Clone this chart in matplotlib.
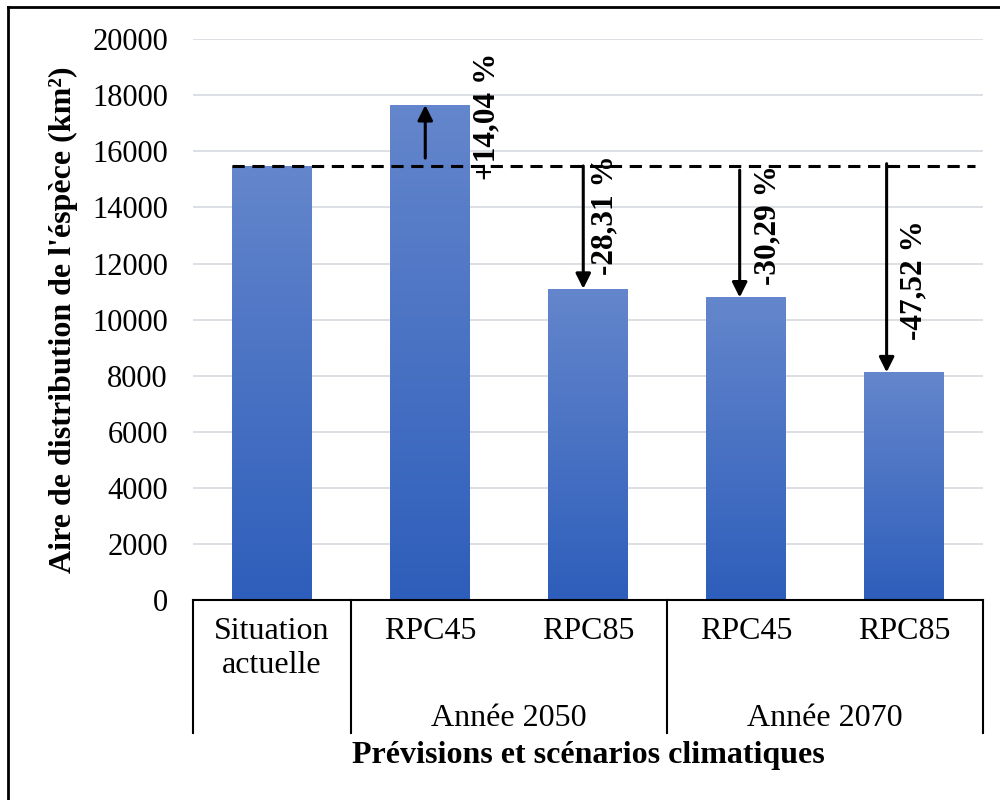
import matplotlib
matplotlib.use("Agg")
import matplotlib.pyplot as plt
import matplotlib.transforms as mtransforms
from matplotlib.lines import Line2D
import numpy as np

plt.rcParams['font.family'] = ['Liberation Serif', 'DejaVu Serif']

# ---- data ----
scenarios = ["Situation\nactuelle", "RPC45", "RPC85", "RPC45", "RPC85"]
groups = ["Année 2050", "Année 2070"]
areas = [15480, 17650, 11100, 10790, 8120]
baseline = 15480
pct_labels = ["+14,04 %", "-28,31 %", "-30,29 %", "-47,52 %"]
yticks = list(range(0, 20001, 2000))

fig = plt.figure(figsize=(10, 8), dpi=100)
ax = fig.add_axes([0.193, 0.25, 0.79, 0.701])

x = np.arange(len(areas))
bars = ax.bar(x, areas, width=0.506, color='none', edgecolor='none', zorder=2)

# gradient fill per bar
top_c = np.array([100, 134, 204]) / 255
bot_c = np.array([46, 94, 187]) / 255
grad = np.linspace(0, 1, 256)[:, None]
img = top_c[None, None, :] * (1 - grad[:, :, None]) + bot_c[None, None, :] * grad[:, :, None]
for b in bars:
    x0, w, h = b.get_x(), b.get_width(), b.get_height()
    im = ax.imshow(img, extent=[x0, x0 + w, 0, h], aspect='auto', zorder=2,
                   interpolation='bilinear')
    im.set_clip_path(b)

ax.set_xlim(-0.5, len(areas) - 0.5)
ax.set_ylim(0, 20000)
ax.set_yticks(yticks)
ax.set_yticklabels([str(t) for t in yticks], fontsize=22)
ax.tick_params(axis='y', length=0, pad=18)
ax.set_xticks([])
ax.yaxis.grid(True, color='#D9DCE2', linewidth=1.3, zorder=0)
ax.set_axisbelow(True)
for s in ['top', 'right', 'left']:
    ax.spines[s].set_visible(False)
ax.spines['bottom'].set_color('black')
ax.spines['bottom'].set_linewidth(1.5)

# baseline dashed line
ax.plot([bars[0].get_x(), len(areas) - 0.55], [baseline, baseline], ls=(0, (4, 2.5)),
        color='black', lw=2.2, zorder=4, clip_on=False)

# arrows
arrow_x = [0.97, 1.97, 2.96, 3.89]
arrow_start = [15760, baseline, 15330, baseline + 80]
for xi, ys, v in zip(arrow_x, arrow_start, areas[1:]):
    ax.annotate('', xy=(xi, v), xytext=(xi, ys),
                arrowprops=dict(arrowstyle='-|>,head_length=0.9,head_width=0.45',
                                color='black', lw=2.2, shrinkA=0, shrinkB=0),
                zorder=5)

# percent labels
lab_x = [1.36, 2.11, 3.14, 4.06]
lab_y = [17250, 13740, 13370, 11400]
for lx, ly, t in zip(lab_x, lab_y, pct_labels):
    ax.text(lx, ly, t, rotation=90, ha='center', va='center', fontsize=22.5,
            fontweight='bold', zorder=6)

# category axis (multi-level)
trans = mtransforms.blended_transform_factory(ax.transData, ax.transAxes)
box_bottom = -0.237
for xv in [-0.5, 0.5, 2.5, len(areas) - 0.5]:
    ax.add_line(Line2D([xv, xv], [0, box_bottom], transform=trans, color='black',
                       lw=1.5, clip_on=False))
for i, lab in enumerate(scenarios):
    ax.text(i, -0.03, lab, transform=trans, ha='center', va='top', fontsize=23,
            linespacing=1.25)
for gx, g in zip([1.5, 3.5], groups):
    ax.text(gx, -0.211, g, transform=trans, ha='center', va='center', fontsize=23)

ax.text(2.0, -0.278, "Prévisions et scénarios climatiques", transform=trans,
        ha='center', va='center', fontsize=23, fontweight='bold')
fig.text(0.063, 0.60, "Aire de distribution de l'éspèce (km²)", rotation=90,
         ha='center', va='center', fontsize=23, fontweight='bold')

# figure frame (top & left visible)
fig.add_artist(Line2D([0.008, 0.008], [0.0, 0.991], transform=fig.transFigure,
                      color='black', lw=2))
fig.add_artist(Line2D([0.008, 1.0], [0.991, 0.991], transform=fig.transFigure,
                      color='black', lw=2))

fig.savefig("out.png", dpi=100)
